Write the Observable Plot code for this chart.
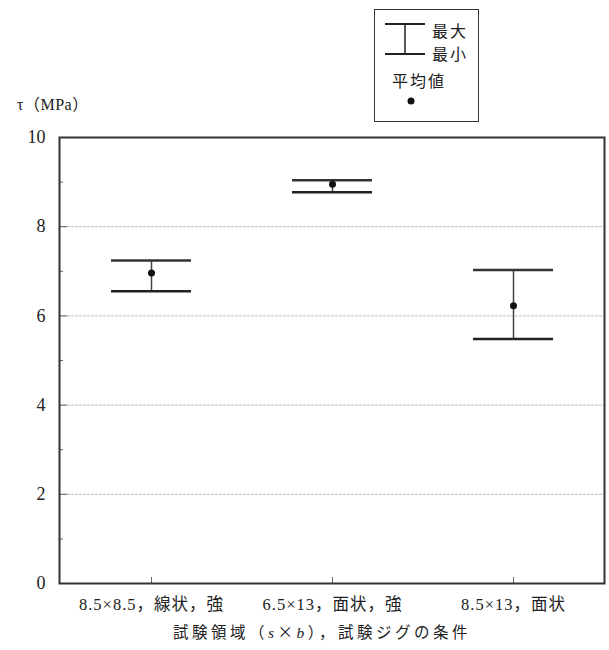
<!DOCTYPE html>
<html>
<head>
<meta charset="utf-8">
<script src="https://cdn.jsdelivr.net/npm/d3@7"></script>
<script src="https://cdn.jsdelivr.net/npm/@observablehq/plot@0.6"></script>
<style>
  html, body { margin: 0; padding: 0; background: #fff; }
  #wrap { position: relative; width: 609px; height: 650px; font-family: "Liberation Serif", "Noto Sans CJK JP", serif; color: #222; }
  #legend { position: absolute; left: 374px; top: 9px; width: 103px; height: 111px; border: 1.5px solid #333; background: #fff; }
  #ylab { position: absolute; left: 17px; top: 91px; font-size: 16px; letter-spacing: 0.5px; }
  #xtitle { position: absolute; left: 0; width: 644px; top: 620px; text-align: center; font-size: 15.5px; letter-spacing: 3.5px; font-family: "Noto Sans CJK JP", "Liberation Serif", serif; }
  .lg { position: absolute; font-size: 16px; font-family: 'Noto Sans CJK JP'; letter-spacing: 2px; line-height: 20px; }
  #chart g[aria-label="x-axis tick label"] text { font-size: 16.5px; font-family: "Liberation Serif", "Noto Sans CJK JP", serif; letter-spacing: 1px; }
</style>
</head>
<body>
<div id="wrap">
  <div id="chart"></div>
  <div id="ylab">τ（MPa）</div>
  <div id="xtitle">試験領域（<i style="font-family:'Liberation Serif'">s</i>×<i style="font-family:'Liberation Serif'">b</i>），試験ジグの条件</div>
  <div id="legend">
    <svg width="103" height="111" style="position:absolute;left:0;top:0">
      <line x1="10" x2="50" y1="14" y2="14" stroke="#222" stroke-width="2"/>
      <line x1="10" x2="50" y1="44" y2="44" stroke="#222" stroke-width="2"/>
      <line x1="30" x2="30" y1="14" y2="44" stroke="#222" stroke-width="1.5"/>
      <circle cx="36" cy="91" r="3.5" fill="#111"/>
    </svg>
    <div class="lg" style="left:57px;top:10px">最大</div>
    <div class="lg" style="left:57px;top:33px">最小</div>
    <div class="lg" style="left:17px;top:60px">平均値</div>
  </div>
</div>
<script>
const categories = ["8.5×8.5，線状，強", "6.5×13，面状，強", "8.5×13，面状"];
const maxValues = [7.24, 9.04, 7.03];
const minValues = [6.55, 8.77, 5.48];
const meanValues = [6.96, 8.95, 6.23];
const majorTicks = [0, 2, 4, 6, 8, 10];
const minorTicks = [1, 3, 5, 7, 9];
const gridTicks = [2, 4, 6, 8];

const rows = categories.map((c, i) => ({cat: c, max: maxValues[i], min: minValues[i], mean: meanValues[i]}));

const chart = Plot.plot({
  width: 609,
  height: 650,
  marginTop: 137,
  marginBottom: 67,
  marginLeft: 59,
  marginRight: 5,
  style: {fontFamily: "'Liberation Serif', 'Noto Sans CJK JP', serif", fontSize: "14px", color: "#222", background: "transparent"},
  x: {type: "band", domain: categories, paddingInner: 0.56, paddingOuter: 0.28, label: null},
  y: {domain: [0, 10], label: null},
  marks: [
    Plot.ruleY(gridTicks, {stroke: "#bbb", strokeWidth: 1, strokeDasharray: "3,1"}),
    Plot.text(majorTicks, {x: null, y: d => d, frameAnchor: "left", textAnchor: "end", dx: -14, text: d => String(d), fontSize: 18, fontFamily: "'Liberation Serif', serif", fill: "#222"}),
    Plot.axisY(minorTicks, {tickSize: -4, text: null, stroke: "#666", label: null}),
    Plot.axisY(majorTicks, {tickSize: -8, text: null, stroke: "#666", label: null}),
    Plot.axisX({tickSize: -6, tickPadding: 21, stroke: "#666", label: null}),
    Plot.ruleX(rows, {x: "cat", y1: "min", y2: "max", stroke: "#444", strokeWidth: 1.5}),
    Plot.tickY(rows, {x: "cat", y: "max", stroke: "#333", strokeWidth: 2.5}),
    Plot.tickY(rows, {x: "cat", y: "min", stroke: "#222", strokeWidth: 2.5}),
    Plot.dot(rows, {x: "cat", y: "mean", r: 3.5, fill: "#111", stroke: null}),
    Plot.frame({stroke: "#333", strokeWidth: 2})
  ]
});
document.getElementById("chart").appendChild(chart);
</script>
</body>
</html>
